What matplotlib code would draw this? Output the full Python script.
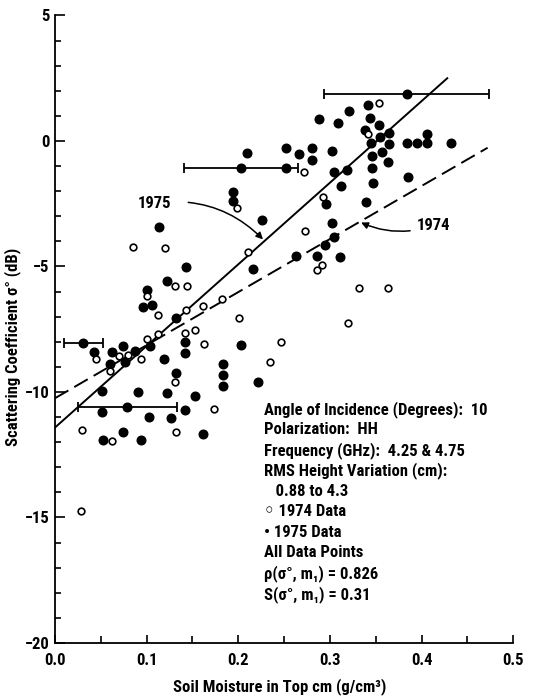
import numpy as np
import matplotlib.pyplot as plt
from matplotlib.ticker import MultipleLocator, FormatStrFormatter

plt.rcParams['font.family'] = ['Roboto Condensed', 'DejaVu Sans']
plt.rcParams['font.size'] = 12
plt.rcParams['font.weight'] = 'bold'
plt.rcParams['axes.labelweight'] = 'bold'

# 1975 data (filled symbols): soil moisture, scattering coefficient
m75 = [0.341, 0.321, 0.288, 0.309, 0.344, 0.354, 0.338, 0.355, 0.364, 0.345, 0.364, 0.384, 0.395, 0.406, 0.406, 0.432,
       0.252, 0.266, 0.280, 0.280, 0.302, 0.346, 0.357, 0.363, 0.346, 0.304, 0.319, 0.312, 0.347, 0.385, 0.296, 0.339,
       0.226, 0.302, 0.304, 0.295, 0.263, 0.286, 0.311, 0.252, 0.210, 0.194, 0.194, 0.114, 0.143, 0.122, 0.100, 0.096,
       0.106, 0.132, 0.216,
       0.043, 0.062, 0.074, 0.087, 0.077, 0.060, 0.104, 0.142, 0.142, 0.203, 0.119, 0.132, 0.183, 0.183, 0.183, 0.222,
       0.051, 0.091, 0.122, 0.153, 0.051, 0.103, 0.127, 0.142, 0.074, 0.162, 0.052, 0.094]
s75 = [1.43, 1.20, 0.89, 0.73, 0.93, 0.64, 0.44, 0.17, 0.31, -0.07, -0.13, -0.08, -0.08, -0.08, 0.27, -0.08,
       -0.29, -0.53, -0.29, -0.76, -0.39, -0.60, -0.45, -0.85, -1.09, -1.25, -1.16, -1.78, -1.69, -1.42, -2.51, -2.42,
       -3.15, -3.25, -3.84, -4.14, -4.58, -4.57, -4.63, -1.09, -0.47, -2.02, -2.39, -3.41, -5.01, -5.57, -5.92, -6.63,
       -6.53, -7.07, -5.09,
       -8.42, -8.42, -8.15, -8.37, -8.79, -8.88, -8.17, -8.02, -8.43, -8.13, -8.70, -9.23, -8.88, -9.32, -9.75, -9.59,
       -9.96, -10.02, -10.05, -10.15, -10.78, -10.98, -11.02, -10.72, -11.59, -11.69, -11.93, -11.91]

# 1974 data (open symbols)
m74 = [0.353, 0.342, 0.272, 0.199, 0.292, 0.273, 0.291, 0.286, 0.085, 0.120,
       0.211, 0.131, 0.144, 0.101, 0.113, 0.143, 0.162, 0.182, 0.201, 0.320,
       0.332, 0.363, 0.247, 0.235, 0.045, 0.070, 0.080, 0.094, 0.060, 0.100,
       0.112, 0.142, 0.153, 0.163, 0.131, 0.174, 0.030, 0.132, 0.062, 0.028]
s74 = [1.53, 0.28, -1.25, -2.66, -2.22, -3.57, -4.96, -5.14, -4.22, -4.27,
       -4.41, -5.79, -5.76, -6.17, -6.92, -6.75, -6.57, -6.29, -7.04, -7.27,
       -5.86, -5.86, -8.02, -8.79, -8.67, -8.57, -8.53, -8.67, -9.16, -7.89,
       -7.71, -7.66, -7.52, -8.08, -9.61, -10.69, -11.51, -11.59, -11.96, -14.74]

# 1975 points with moisture range bars
eb_m = [0.031, 0.079, 0.203, 0.384]
eb_s = [-8.05, -10.59, -1.06, 1.87]
eb_dm = [0.021, 0.054, 0.062, 0.090]

# regression lines (end points)
fit75_m = [0.0, 0.428]
fit75_s = [-11.42, 2.50]
fit74_m = [0.0, 0.472]
fit74_s = [-10.25, -0.27]

info_lines = [
    "Angle of Incidence (Degrees):  10",
    "Polarization:  HH",
    "Frequency (GHz):  4.25 & 4.75",
    "RMS Height Variation (cm):",
    "   0.88 to 4.3",
    "\u25e6 1974 Data",
    "\u2022 1975 Data",
    "All Data Points",
    "\u03c1(\u03c3\u00b0, m\u2081) = 0.826",
    "S(\u03c3\u00b0, m\u2081) = 0.31",
]

fig = plt.figure(figsize=(5.33, 6.97), dpi=100)
ax = fig.add_axes([0.103, 0.0775, 0.860, 0.9003])

ax.plot(fit75_m, fit75_s, color="black", lw=1.4)
ax.plot(fit74_m, fit74_s, color="black", lw=1.4, dashes=(8, 3.5))

ax.plot(m75, s75, "o", ms=6.2, mfc="black", mec="black", ls="none")
ax.plot(m74, s74, "o", ms=4.8, mfc="white", mec="black", mew=1.2, ls="none")
ax.errorbar(eb_m, eb_s, xerr=eb_dm, fmt="o", ms=6.2, color="black",
            elinewidth=1.3, capsize=3.5, capthick=1.3)

ax.annotate("1975", xy=(0.227, -3.92), xytext=(0.109, -2.48),
            ha="center", va="center", fontsize=12,
            arrowprops=dict(arrowstyle="-|>", color="black", lw=1.1,
                            shrinkA=10, shrinkB=0, mutation_scale=10,
                            connectionstyle="arc3,rad=-0.25"))
ax.annotate("1974", xy=(0.334, -3.25), xytext=(0.395, -3.36),
            ha="left", va="center", fontsize=12,
            arrowprops=dict(arrowstyle="-|>", color="black", lw=1.1,
                            shrinkA=3, shrinkB=0, mutation_scale=10,
                            connectionstyle="arc3,rad=-0.2"))

for i, line in enumerate(info_lines):
    ax.annotate(line, xy=(0.228, -10.68), xytext=(0, -14.8 * i),
                textcoords="offset points", ha="left", va="center", fontsize=12)

ax.set_xlim(0, 0.5)
ax.set_ylim(-20, 5)
ax.xaxis.set_major_locator(MultipleLocator(0.1))
ax.xaxis.set_minor_locator(MultipleLocator(0.05))
ax.xaxis.set_major_formatter(FormatStrFormatter("%.1f"))
ax.yaxis.set_major_locator(MultipleLocator(5))
ax.yaxis.set_minor_locator(MultipleLocator(1))
ax.tick_params(which="both", direction="in", width=1.2, labelsize=12)
ax.tick_params(axis="x", which="major", length=6, pad=7)
ax.tick_params(axis="x", which="minor", length=5)
ax.tick_params(axis="y", which="major", length=7, pad=4)
ax.tick_params(axis="y", which="minor", length=4)
for lbl in ax.get_xticklabels() + ax.get_yticklabels():
    lbl.set_fontweight("bold")

for side in ("top", "right"):
    ax.spines[side].set_visible(False)
for side in ("left", "bottom"):
    ax.spines[side].set_linewidth(1.3)

ax.set_xlabel("Soil Moisture in Top cm (g/cm\u00b3)", fontsize=12)
ax.set_ylabel("Scattering Coefficient \u03c3\u00b0 (dB)", fontsize=12)
ax.xaxis.set_label_coords(0.49, -0.056)
ax.yaxis.set_label_coords(-0.074, 0.472)

fig.savefig("out.png", dpi=100)
